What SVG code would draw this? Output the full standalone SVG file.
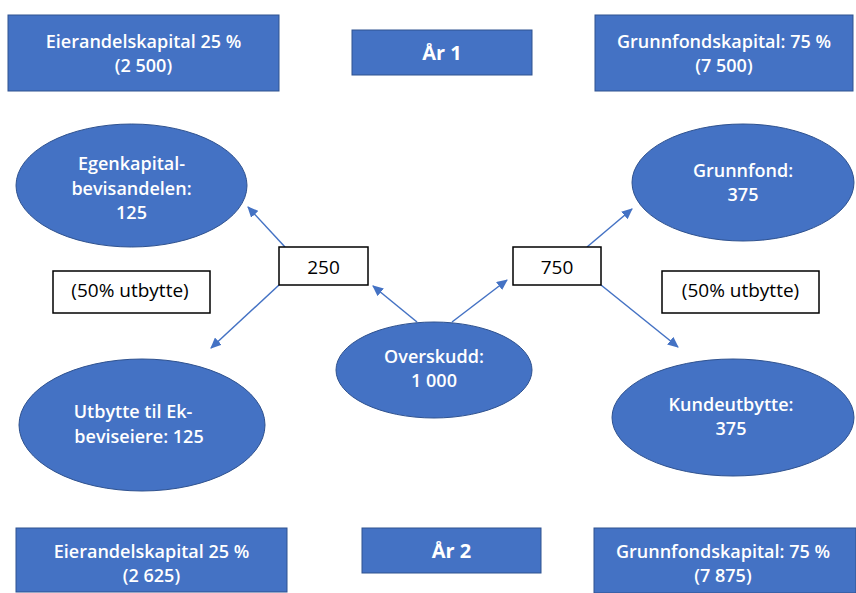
<svg xmlns="http://www.w3.org/2000/svg" width="856" height="593" viewBox="0 0 856 593">
<style>
.b{fill:#4472C4;stroke:#2F528F;stroke-width:1}
.w{fill:#FFFFFF;stroke:#000000;stroke-width:1.5}
.t{font-family:"Open Sans","Liberation Sans",sans-serif;font-size:18px;font-weight:600;fill:#FFFFFF;text-anchor:middle}
.k{font-family:"Open Sans","Liberation Sans",sans-serif;font-size:19px;fill:#000000;text-anchor:middle}
.h{font-weight:bold;font-size:20px}
.c{stroke:#4472C4;stroke-width:1.5;fill:none;marker-end:url(#ah)}
</style>
<defs>
<marker id="ah" markerWidth="11" markerHeight="10" refX="10" refY="5" orient="auto" markerUnits="userSpaceOnUse" viewBox="0 0 11 10">
<path d="M0,0 L11,5 L0,10 Z" fill="#4472C4"/>
</marker>
</defs>
<rect width="856" height="593" fill="#FFFFFF"/>
<g id="connectors">
<line class="c" x1="285" y1="247" x2="248" y2="207"/>
<line class="c" x1="279" y1="285" x2="211" y2="348"/>
<line class="c" x1="417" y1="322" x2="373" y2="286"/>
<line class="c" x1="452" y1="322" x2="507" y2="280"/>
<line class="c" x1="587" y1="247" x2="632" y2="209"/>
<line class="c" x1="601" y1="285" x2="678" y2="347"/>
</g>
<g id="eier1">
<rect class="b" x="8" y="15" width="271" height="76"/>
<text class="t" x="143.5" y="48">Eierandelskapital 25 %</text>
<text class="t" x="143.5" y="72">(2 500)</text>
</g>
<g id="ar1">
<rect class="b" x="352" y="30" width="180" height="45"/>
<text class="t h" x="442" y="60">År 1</text>
</g>
<g id="grunn1">
<rect class="b" x="595" y="15" width="258" height="76"/>
<text class="t" x="724" y="48">Grunnfondskapital: 75 %</text>
<text class="t" x="724" y="72">(7 500)</text>
</g>
<g id="egenkapital">
<ellipse class="b" cx="131.5" cy="185.5" rx="115.5" ry="61.5"/>
<text class="t" x="131.5" y="170">Egenkapital-</text>
<text class="t" x="131.5" y="195">bevisandelen:</text>
<text class="t" x="131.5" y="219">125</text>
</g>
<g id="grunnfond">
<ellipse class="b" cx="743" cy="182.5" rx="111" ry="58.5"/>
<text class="t" x="743" y="177">Grunnfond:</text>
<text class="t" x="743" y="201">375</text>
</g>
<g id="b250">
<rect class="w" x="279" y="247" width="89" height="38"/>
<text class="k" x="323.5" y="274">250</text>
</g>
<g id="b750">
<rect class="w" x="513" y="247" width="88" height="38"/>
<text class="k" x="557" y="274">750</text>
</g>
<g id="utbytte-l">
<rect class="w" x="53" y="271" width="157" height="42"/>
<text class="k" x="130" y="297">(50% utbytte)</text>
</g>
<g id="utbytte-r">
<rect class="w" x="662" y="271" width="157" height="42"/>
<text class="k" x="740.5" y="297">(50% utbytte)</text>
</g>
<g id="overskudd">
<ellipse class="b" cx="434" cy="370" rx="98" ry="48"/>
<text class="t" x="434" y="363">Overskudd:</text>
<text class="t" x="434" y="387">1 000</text>
</g>
<g id="ekbevis">
<ellipse class="b" cx="142" cy="425" rx="123" ry="66"/>
<text class="t" x="133" y="418">Utbytte til Ek-</text>
<text class="t" x="139" y="443">beviseiere: 125</text>
</g>
<g id="kundeutbytte">
<ellipse class="b" cx="733" cy="417.5" rx="121" ry="58.5"/>
<text class="t" x="731" y="411">Kundeutbytte:</text>
<text class="t" x="731" y="435">375</text>
</g>
<g id="eier2">
<rect class="b" x="16" y="528" width="271" height="64"/>
<text class="t" x="151.5" y="558">Eierandelskapital 25 %</text>
<text class="t" x="151.5" y="582">(2 625)</text>
</g>
<g id="ar2">
<rect class="b" x="362" y="528" width="179" height="45"/>
<text class="t h" x="451.5" y="558">År 2</text>
</g>
<g id="grunn2">
<rect class="b" x="594" y="528" width="262" height="65"/>
<text class="t" x="723" y="558">Grunnfondskapital: 75 %</text>
<text class="t" x="723" y="582">(7 875)</text>
</g>
</svg>
